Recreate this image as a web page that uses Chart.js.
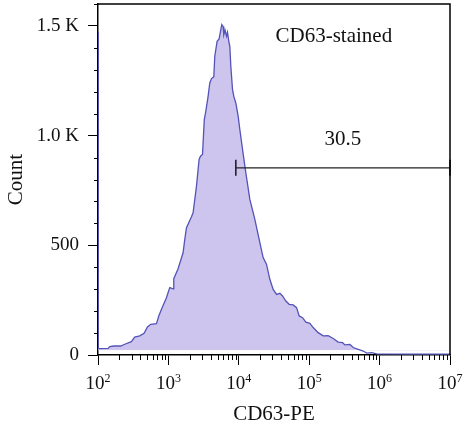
<!DOCTYPE html>
<html lang="en">
<head>
<meta charset="UTF-8" />
<title>CD63-stained</title>
<style>
  body { margin: 0; background: #fff; }
  .chart { width: 464px; height: 425px; }
</style>
</head>
<body>
<div class="chart"><canvas id="myChart" width="464" height="425"></canvas></div>
<script src="https://cdn.jsdelivr.net/npm/chart.js"></script>
<script>
// histogram (x = CD63-PE intensity, y = count)
const fluorescence = [100, 101, 139, 147, 169, 210, 240, 298, 332, 392, 451, 504, 561, 677, 730, 797, 938,
  1046, 1165, 1192, 1372, 1616, 1709, 1806, 2127, 2242, 2505, 2729, 2857, 3050, 3235, 3397, 3663, 3873,
  4095, 4415, 4561, 4919, 5251, 5552, 5736, 5985, 6124, 6390, 6690, 6912, 7214, 7454, 7701, 8143, 8497,
  9071, 9779, 10340, 11298, 12588, 14350, 16900, 19910, 22170, 24780, 27610, 30760, 34390, 38300, 41830,
  46600, 51920, 59190, 66150, 72040, 80530, 89710, 102200, 113900, 134200, 158100, 186100, 219300,
  258200, 298300, 321600, 378700, 421900, 497100, 585600, 654300, 770700, 907500, 3000000, 10000000];
const counts = [1474, 29, 30, 38, 41, 41, 49, 61, 82, 87, 99, 128, 140, 143, 178, 208, 261,
  307, 302, 348, 393, 466, 527, 580, 630, 648, 770, 891, 906, 914, 1073, 1111, 1179, 1240,
  1260, 1268, 1362, 1430, 1441, 1483, 1506, 1498, 1460, 1480, 1453, 1471, 1430, 1407, 1316, 1210, 1179,
  1149, 1090, 1028, 937, 830, 709, 618, 512, 444, 413, 345, 299, 276, 281, 269,
  246, 231, 228, 216, 178, 170, 150, 144, 125, 102, 87, 88, 75,
  59, 56, 46, 48, 34, 26, 18, 9, 11, 5, 4, 4];

const gateRange = [9071, 10000000];
const gateLevel = 853;
const gateLabel = "30.5";
const sampleLabel = "CD63-stained";

const xMajor = [1e2, 1e3, 1e4, 1e5, 1e6, 1e7];
const yMajor = [0, 500, 1000, 1500];
const yTickLabels = ["0", "500", "1.0 K", "1.5 K"];
const yMinorStep = 100;

const FONT = '"Liberation Serif", "DejaVu Serif", serif';

const axisDecor = {
  id: "axisDecor",
  afterDatasetsDraw(chart) {
    const { ctx, chartArea: a, scales } = chart;
    const x = scales.x, y = scales.y;
    ctx.save();
    ctx.strokeStyle = "#000";
    ctx.lineWidth = 1.5;
    // top + right frame
    ctx.beginPath();
    ctx.moveTo(a.left, a.top);
    ctx.lineTo(a.right, a.top);
    ctx.lineTo(a.right, a.bottom);
    ctx.stroke();

    // minor ticks
    ctx.lineWidth = 1;
    ctx.beginPath();
    for (let d = 2; d < 7; d++) {
      for (let m = 2; m < 10; m++) {
        const px = Math.round(x.getPixelForValue(m * 10 ** d)) + 0.5;
        ctx.moveTo(px, a.bottom);
        ctx.lineTo(px, a.bottom + 5);
      }
    }
    for (let v = yMinorStep; v <= y.max; v += yMinorStep) {
      if (v % 500 === 0) continue;
      const py = Math.round(y.getPixelForValue(v)) + 0.5;
      ctx.moveTo(a.left, py);
      ctx.lineTo(a.left - 4, py);
    }
    ctx.stroke();

    // x tick labels 10^n
    ctx.fillStyle = "#111";
    ctx.textBaseline = "alphabetic";
    ctx.textAlign = "left";
    xMajor.forEach((v) => {
      const px = x.getPixelForValue(v);
      const exp = String(Math.round(Math.log10(v)));
      ctx.font = "19px " + FONT;
      const w1 = ctx.measureText("10").width;
      ctx.font = "12px " + FONT;
      const w2 = ctx.measureText(exp).width;
      const x0 = px - (w1 + w2) / 2;
      ctx.font = "19px " + FONT;
      ctx.fillText("10", x0, a.bottom + 34);
      ctx.font = "12px " + FONT;
      ctx.fillText(exp, x0 + w1, a.bottom + 27);
    });

    // annotations
    ctx.font = "21px " + FONT;
    ctx.textAlign = "center";
    ctx.textBaseline = "middle";
    ctx.fillText(sampleLabel, x.getPixelForValue(224000), y.getPixelForValue(1453));
    const gx = x.getPixelForValue(Math.sqrt(gateRange[0] * gateRange[1]));
    ctx.fillText(gateLabel, gx, y.getPixelForValue(gateLevel) - 28);
    ctx.restore();
  },
};

const ctx = document.getElementById("myChart");
new Chart(ctx, {
  type: "line",
  data: {
    datasets: [
      {
        data: fluorescence.map((v, i) => ({ x: v, y: counts[i] })),
        borderColor: "#5454b8",
        backgroundColor: "#cdc5ee",
        borderWidth: 1.3,
        pointRadius: 0,
        fill: { target: { value: 22 }, above: "#cdc5ee", below: "rgba(0,0,0,0)" },
        tension: 0,
        order: 2,
      },
      {
        data: gateRange.map((v) => ({ x: v, y: gateLevel })),
        borderColor: "#222",
        borderWidth: 1.3,
        pointStyle: "line",
        rotation: 90,
        pointRadius: 8,
        pointBorderWidth: 1.6,
        pointBorderColor: "#222",
        fill: false,
        clip: false,
        order: 1,
      },
    ],
  },
  options: {
    responsive: false,
    animation: false,
    layout: { autoPadding: false, padding: { top: 4, right: 14, left: 0, bottom: 0 } },
    plugins: { legend: { display: false }, tooltip: { enabled: false } },
    scales: {
      x: {
        type: "logarithmic",
        min: 100,
        max: 10000000,
        afterBuildTicks: (s) => { s.ticks = xMajor.map((v) => ({ value: v, major: true })); },
        afterFit: (s) => { s.height = 70; s.paddingLeft = 0; s.paddingRight = 0; },
        ticks: { display: false },
        grid: { drawOnChartArea: false, drawTicks: true, tickLength: 10, color: "#000", tickWidth: 1 },
        border: { display: true, color: "#000", width: 1.5 },
        title: {
          display: true,
          text: "CD63-PE",
          color: "#111",
          font: { family: FONT, size: 21 },
          padding: { top: 0, bottom: -2 },
        },
      },
      y: {
        min: 0,
        max: 1600,
        afterBuildTicks: (s) => { s.ticks = yMajor.map((v) => ({ value: v })); },
        afterFit: (s) => { s.width = 98; s.paddingTop = 0; s.paddingBottom = 0; },
        ticks: {
          color: "#111",
          font: { family: FONT, size: 19 },
          padding: 9,
          callback: (v) => yTickLabels[yMajor.indexOf(v)],
        },
        grid: { drawOnChartArea: false, drawTicks: true, tickLength: 10, color: "#000", tickWidth: 1 },
        border: { display: true, color: "#000", width: 1.5 },
        title: {
          display: true,
          text: "Count",
          color: "#111",
          font: { family: FONT, size: 21 },
          padding: 4,
        },
      },
    },
  },
  plugins: [axisDecor],
});
</script>
</body>
</html>
